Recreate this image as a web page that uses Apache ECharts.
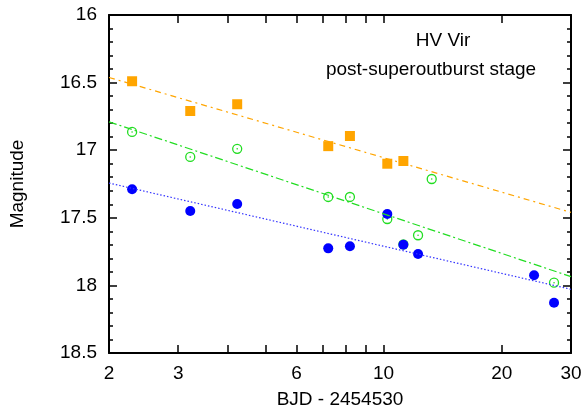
<!DOCTYPE html>
<html>
<head>
<meta charset="utf-8">
<script src="https://cdn.jsdelivr.net/npm/echarts@6/dist/echarts.min.js"></script>
<style>
html,body{margin:0;padding:0;background:#fff;}
#c{width:582px;height:410px;}
</style>
</head>
<body>
<div id="c"></div>
<script>
// ---- data ----
const orangeX = [2.29, 3.22, 4.24, 7.23, 8.21, 10.22, 11.23];
const orangeMag = [16.49, 16.71, 16.66, 16.97, 16.895, 17.10, 17.08];
const greenX = [2.29, 3.22, 4.24, 7.23, 8.21, 10.22, 11.23, 12.24, 13.26, 27.16];
const greenMag = [16.865, 17.05, 16.99, 17.346, 17.346, 17.509, 17.696, 17.629, 17.213, 17.98];
const blueX = [2.29, 3.22, 4.24, 7.23, 8.21, 10.22, 11.23, 12.24, 24.16, 27.16];
const blueMag = [17.289, 17.45, 17.398, 17.726, 17.711, 17.472, 17.699, 17.768, 17.925, 18.128];
// fitted trend lines (endpoints at x = 2 and x = 30)
const fitX = [2, 30];
const orangeFit = [16.462, 17.46];
const greenFit = [16.79, 17.935];
const blueFit = [17.243, 18.029];
// axis ticks
const xTickValues = [2, 3, 4, 5, 6, 7, 8, 9, 10, 20, 30];
const xLabelValues = [2, 3, 6, 10, 20, 30];
const titleLines = ['HV Vir', 'post-superoutburst stage'];
const xName = 'BJD - 2454530';
const yName = 'Magnitude';

const zip = (xs, ys) => xs.map((x, i) => [x, ys[i]]);
const FONT = 'Liberation Sans, Arial, sans-serif';
const FS = 19;

const chart = echarts.init(document.getElementById('c'));

function xAxisDef(pos, withLabels) {
  const a = {
    type: 'log', logBase: 10, min: 2, max: 30, position: pos,
    axisLine: {show: true, lineStyle: {color: '#000', width: 2}},
    axisTick: {show: true, inside: true, interval: 0, length: 8, lineStyle: {color: '#000', width: 1.5}, customValues: xTickValues},
    splitLine: {show: false},
    axisLabel: {show: withLabels, interval: 0, hideOverlap: false, customValues: xLabelValues, margin: 11,
                fontFamily: FONT, fontSize: FS, color: '#000', formatter: v => String(Math.round(v))}
  };
  if (withLabels) {
    a.name = xName; a.nameLocation = 'middle'; a.nameGap = 37;
    a.nameTextStyle = {fontFamily: FONT, fontSize: FS, color: '#000'};
  }
  return a;
}
function yAxisDef(pos, withLabels) {
  const a = {
    type: 'value', inverse: true, min: 16, max: 18.5, interval: 0.5, position: pos,
    axisLine: {show: true, lineStyle: {color: '#000', width: 2}},
    axisTick: {show: true, inside: true, interval: 0, length: 8, lineStyle: {color: '#000', width: 1.5}},
    minorTick: {show: true, splitNumber: 5, length: 4, lineStyle: {color: '#000', width: 1.5}},
    splitLine: {show: false},
    axisLabel: {show: withLabels, interval: 0, hideOverlap: false, margin: 12, fontFamily: FONT, fontSize: FS, color: '#000'}
  };
  if (withLabels) {
    a.name = yName; a.nameLocation = 'middle'; a.nameGap = 82; a.nameRotate = 90;
    a.nameTextStyle = {fontFamily: FONT, fontSize: FS, color: '#000'};
  }
  return a;
}

const option = {
  animation: false,
  backgroundColor: '#fff',
  grid: {left: 109, top: 15, right: 11, bottom: 57, outerBoundsMode: 'none'},
  xAxis: [xAxisDef('bottom', true), xAxisDef('top', false)],
  yAxis: [yAxisDef('left', true), yAxisDef('right', false)],
  graphic: [
    {type: 'text', x: 443, y: 41, z: 100,
     style: {text: titleLines[0], fontFamily: FONT, fontSize: FS, fill: '#000', align: 'center', verticalAlign: 'middle'}},
    {type: 'text', x: 431, y: 70, z: 100,
     style: {text: titleLines[1], fontFamily: FONT, fontSize: FS, fill: '#000', align: 'center', verticalAlign: 'middle'}}
  ],
  series: [
    {type: 'line', data: zip(fitX, orangeFit), symbol: 'none',
     lineStyle: {color: '#ffa500', width: 1.2, type: [6, 4, 2, 4]}},
    {type: 'line', data: zip(fitX, greenFit), symbol: 'none',
     lineStyle: {color: '#22dd22', width: 1.2, type: [8, 3, 2, 3]}},
    {type: 'line', data: zip(fitX, blueFit), symbol: 'none',
     lineStyle: {color: '#3333ff', width: 1.2, type: [1.5, 2]}},
    {type: 'scatter', data: zip(orangeX, orangeMag), symbol: 'rect', symbolSize: 10,
     itemStyle: {color: '#ffa500', opacity: 1}},
    {type: 'scatter', data: zip(greenX, greenMag), symbol: 'circle', symbolSize: 9,
     itemStyle: {color: 'rgba(255,255,255,0)', borderColor: '#22dd22', borderWidth: 1.3, opacity: 1}},
    {type: 'scatter', data: zip(greenX, greenMag), symbol: 'circle', symbolSize: 1.6,
     itemStyle: {color: '#22dd22', opacity: 1}},
    {type: 'scatter', data: zip(blueX, blueMag), symbol: 'circle', symbolSize: 10,
     itemStyle: {color: '#0000ff', opacity: 1}}
  ]
};
chart.setOption(option);
</script>
</body>
</html>
